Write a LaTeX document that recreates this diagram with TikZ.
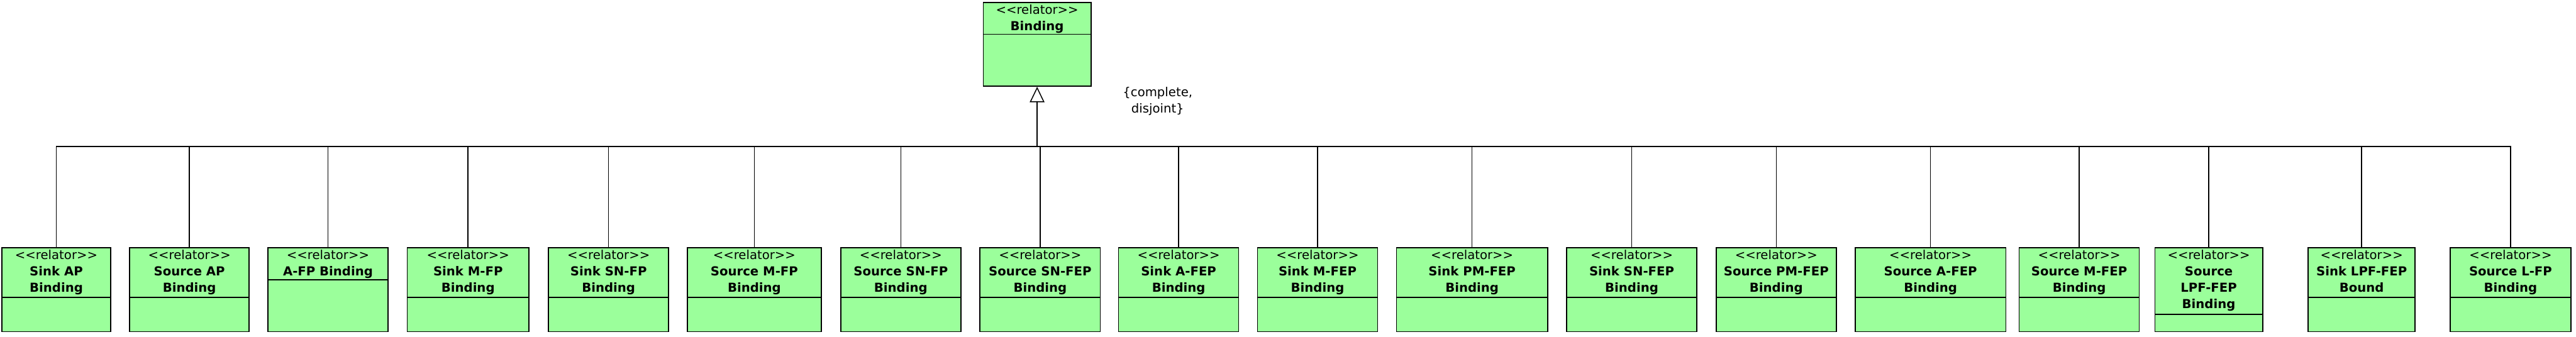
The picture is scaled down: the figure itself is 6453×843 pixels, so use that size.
\documentclass[tikz,border=0pt]{standalone}
\usepackage{fontspec}
\setmainfont{DejaVu Sans}
\usetikzlibrary{arrows.meta}
\definecolor{relgreen}{RGB}{155,255,155}
\tikzset{
  relbox/.style={draw=black, fill=relgreen, line width=2.7pt, inner sep=0pt, minimum height=210pt},
  reltext/.style={anchor=north, align=center, inner sep=0pt, font=\fontsize{31}{41}\selectfont},
  sepline/.style={line width=2.7pt},
  conn/.style={line width=2.4pt},
  gen/.style={line width=2.4pt, -{Triangle[open, length=39pt, width=37pt, line width=2.4pt]}},
}
\newcommand\stereo{<\kern0pt<relator>\kern0pt>}
\newcommand\relbox[5]{%
  \node[relbox, minimum width={(#3-#2)*1pt}] (#1) at ({(#2+#3)/2},-726) {};
  \node[reltext] (#1t) at ([yshift=-7pt]#1.north) {\stereo\\#5};
  \draw[sepline] ([yshift=-#4pt]#1.north west) -- ([yshift=-#4pt]#1.north east);
}
\begin{document}
\begin{tikzpicture}[x=1pt,y=1pt]
\useasboundingbox (0,0) rectangle (6453,-843);
% parent
\node[relbox, minimum width=270pt] (top) at (2598,-111) {};
\node[reltext] (topt) at ([yshift=-7pt]top.north) {\stereo\\\textbf{Binding}};
\draw[sepline] ([yshift=-81pt]top.north west) -- ([yshift=-81pt]top.north east);
\node[align=center, inner sep=0pt, font=\fontsize{31}{41}\selectfont] (gs) at (2900,-253) {\{complete,\\disjoint\}};
% children
\relbox{b1}{5}{277}{126}{\textbf{Sink AP}\\\textbf{Binding}}
\relbox{b2}{325}{624}{126}{\textbf{Source AP}\\\textbf{Binding}}
\relbox{b3}{671}{972}{81}{\textbf{A-FP Binding}}
\relbox{b4}{1020}{1325}{126}{\textbf{Sink M-FP}\\\textbf{Binding}}
\relbox{b5}{1374}{1675}{126}{\textbf{Sink SN-FP}\\\textbf{Binding}}
\relbox{b6}{1722}{2057}{126}{\textbf{Source M-FP}\\\textbf{Binding}}
\relbox{b7}{2106}{2407}{126}{\textbf{Source SN-FP}\\\textbf{Binding}}
\relbox{b8}{2455}{2756}{126}{\textbf{Source SN-FEP}\\\textbf{Binding}}
\relbox{b9}{2802}{3103}{126}{\textbf{Sink A-FEP}\\\textbf{Binding}}
\relbox{b10}{3150}{3451}{126}{\textbf{Sink M-FEP}\\\textbf{Binding}}
\relbox{b11}{3498}{3877}{126}{\textbf{Sink PM-FEP}\\\textbf{Binding}}
\relbox{b12}{3924}{4251}{126}{\textbf{Sink SN-FEP}\\\textbf{Binding}}
\relbox{b13}{4299}{4600}{126}{\textbf{Source PM-FEP}\\\textbf{Binding}}
\relbox{b14}{4647}{5025}{126}{\textbf{Source A-FEP}\\\textbf{Binding}}
\relbox{b15}{5058}{5359}{126}{\textbf{Source M-FEP}\\\textbf{Binding}}
\relbox{b16}{5398}{5668}{168}{\textbf{Source}\\\textbf{LPF-FEP}\\\textbf{Binding}}
\relbox{b17}{5782}{6050}{126}{\textbf{Sink LPF-FEP}\\\textbf{Bound}}
\relbox{b18}{6138}{6440}{126}{\textbf{Source L-FP}\\\textbf{Binding}}
% generalization set
\coordinate (bus) at (2598,-367);
\draw[gen] (bus) -- (top.south);
\foreach \n in {b1,b2,b3,b4,b5,b6,b7,b8,b9,b10,b11,b12,b13,b14,b15,b16,b17,b18}
  \draw[conn] (\n.north) |- (bus);
\end{tikzpicture}
\end{document}
